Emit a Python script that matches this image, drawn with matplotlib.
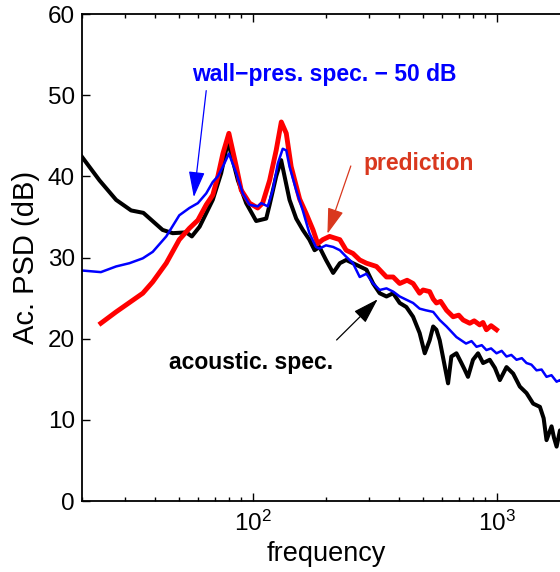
import matplotlib
matplotlib.use("Agg")
import matplotlib.pyplot as plt

plt.rcParams["font.family"] = ["Liberation Sans", "DejaVu Sans"]

# acoustic spectrum (black)
f_ac = [20, 23.6, 27.6, 31.8, 35.7, 42.8, 47.1, 53.5, 56.4, 60.7, 68.7, 74.4, 79.3,
        87.1, 94.2, 103.5, 113.8, 117.5, 125, 131, 141.8, 151, 160.7, 171, 179.6,
        188, 200, 214, 228, 242, 258, 275, 293, 312, 332, 354, 377, 401, 427, 455,
        484, 508, 532, 550, 567, 585, 610, 633, 653, 685, 718, 740, 764, 801, 840, 881, 938,
        985, 1032, 1099, 1170, 1246, 1327, 1413, 1506, 1560, 1603, 1681, 1720, 1763, 1820,
        1900, 2000]
psd_ac = [42.4, 39.5, 37.1, 35.8, 35.5, 33.4, 33.0, 33.1, 32.6, 33.8, 37.1, 40.4, 44.3,
          39.5, 36.7, 34.5, 34.8, 36.5, 40.0, 42.0, 37.1, 34.8, 33.4, 32.2, 30.9,
          31.3, 29.7, 28.1, 29.3, 29.7, 29.3, 28.9, 28.5, 26.8, 25.6, 25.2, 25.6, 24.4, 23.9, 22.7,
          20.7, 18.2, 19.8, 21.5, 21.1, 19.8, 17.0, 14.5, 17.8, 18.2, 17.0, 16.2, 15.3, 17.4,
          18.2, 17.0, 17.4, 16.4, 14.9, 16.5, 15.7, 14.1, 13.3, 12.0, 11.6, 10.2, 7.5, 9.2,
          7.8, 6.7, 8.7, 7.4, 8.0]

# prediction (red)
f_pred = [23.9, 27.6, 35.5, 39, 44.3, 50.1, 55.1, 59.7, 64.6, 68.7, 72.1, 75.6, 80,
          85.8, 89.9, 97.2, 105, 110, 117.5, 125, 131.2, 137.5, 144, 156, 166, 177,
          185, 194, 207, 228, 242, 258, 275, 293, 322, 354, 377, 401, 430, 455, 484,
          500, 532, 550, 567, 590, 624, 664, 700, 730, 777, 810, 853, 880, 909, 950, 1000]
psd_pred = [21.9, 23.3, 25.6, 27.0, 29.3, 32.2, 33.6, 34.6, 36.5, 37.7, 40.0, 42.8, 45.3,
            41.2, 38.3, 36.7, 36.1, 36.7, 39.5, 43.2, 46.7, 45.3, 41.2, 37.2, 35.4, 33.4,
            31.7, 32.2, 32.6, 32.2, 30.9, 30.5, 29.7, 29.3, 28.9, 27.6, 27.6, 26.8, 27.2, 26.8, 25.6,
            26.0, 25.8, 24.9, 24.4, 24.6, 23.5, 22.7, 22.9, 22.3, 21.9, 22.2, 21.7, 22.0, 21.1,
            21.6, 21.1]

# wall-pressure spectrum - 50 dB (blue)
f_wp = [20, 23.9, 27.6, 31.3, 35.5, 39, 44.3, 50.1, 55.1, 59.7, 64.6, 68.7, 72.1, 75.6,
        80, 85.8, 91.2, 97.2, 105, 108.6, 115.5, 121, 127, 133, 137.5, 141.8, 151,
        160.7, 171, 182, 188, 200, 214, 228, 242, 258, 275, 293, 312, 332, 354, 377,
        401, 427, 455, 484, 513, 550, 585, 624, 685, 750, 790, 828, 870, 909, 950, 1000, 1050,
        1099, 1150, 1208, 1270, 1327, 1390, 1459, 1530, 1603, 1680, 1763, 1820, 1900, 2000]
psd_wp = [28.4, 28.2, 28.9, 29.3, 29.9, 30.7, 32.6, 35.2, 36.1, 36.7, 37.9, 39.3, 40.0, 41.2,
          42.8, 40.4, 37.9, 36.5, 36.3, 36.7, 36.3, 38.3, 41.6, 43.4, 43.2, 41.2, 38.3,
          35.8, 33.0, 31.3, 31.1, 31.5, 31.3, 30.9, 30.1, 29.3, 27.6, 28.0, 26.8, 26.0, 26.2, 25.8,
          25.2, 24.8, 24.4, 23.7, 23.5, 23.3, 22.3, 21.5, 20.2, 19.4, 19.7, 19.0, 19.2, 18.6,
          18.8, 18.2, 18.5, 17.8, 18.0, 17.4, 17.6, 17.0, 16.8, 16.1, 16.2, 15.3, 15.5, 14.7,
          14.9, 14.3, 14.2]

yticks = [0, 10, 20, 30, 40, 50, 60]

fig = plt.figure(figsize=(5.6, 5.72), dpi=100)
ax = fig.add_axes([0.1464, 0.1241, 0.8714, 0.8514])

ax.plot(f_ac, psd_ac, color="k", lw=2.9)
ax.plot(f_pred, psd_pred, color="#ff0000", lw=3.5)
ax.plot(f_wp, psd_wp, color="#0000ff", lw=1.8)

ax.set_xscale("log")
ax.set_xlim(20, 2000)
ax.set_ylim(0, 60)
ax.set_yticks(yticks)

ax.tick_params(which="both", direction="in", top=True, right=True, labelsize=17.5, width=1)
ax.tick_params(which="major", length=6, pad=5)
ax.tick_params(axis="x", which="major", pad=7)
ax.tick_params(which="minor", length=3)
for s in ax.spines.values():
    s.set_linewidth(1.3)

ax.set_xlabel("frequency", fontsize=19.5, labelpad=4)
ax.set_ylabel("Ac. PSD (dB)", fontsize=21, labelpad=6)

# annotations
arrow = "-|>,head_length=0.8,head_width=0.25"
ax.text(56.7, 52.5, "wall\u2212pres. spec. \u2212 50 dB", color="#0000ff",
        fontsize=16.5, fontweight="bold", ha="left", va="center")
ax.annotate("", xy=(57.3, 37.1), xytext=(64.8, 50.9),
            arrowprops=dict(arrowstyle=arrow, color="#0000ff", lw=0.9, mutation_scale=20))

ax.text(285, 41.6, "prediction", color="#d9381e", fontsize=16.5,
        fontweight="bold", ha="left", va="center")
ax.annotate("", xy=(201, 32.6), xytext=(255, 41.6),
            arrowprops=dict(arrowstyle=arrow, color="#d9381e", lw=0.9, mutation_scale=20))

ax.text(45.6, 17.1, "acoustic. spec.", color="k", fontsize=16.5,
        fontweight="bold", ha="left", va="center")
ax.annotate("", xy=(332, 25.1), xytext=(217, 19.6),
            arrowprops=dict(arrowstyle=arrow, color="k", lw=0.9, mutation_scale=20))

fig.savefig("out.png", dpi=100)
